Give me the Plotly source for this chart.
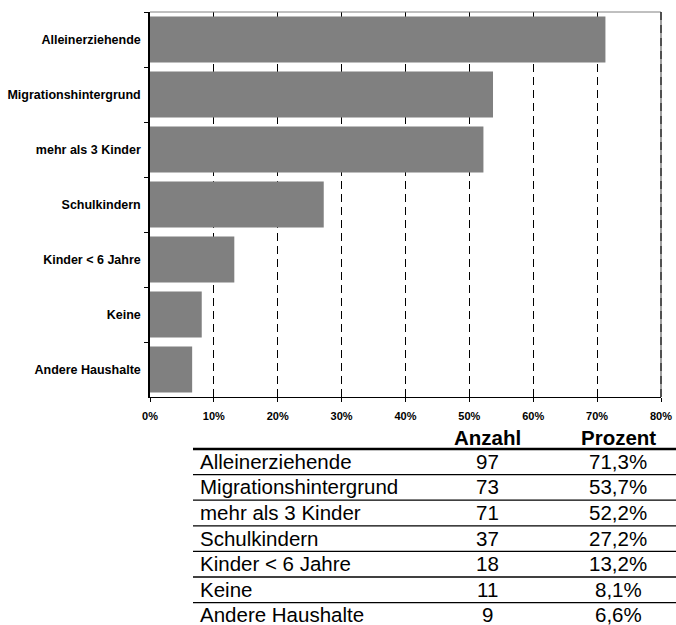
import plotly.graph_objects as go

# Household types with counts and shares (in percent)
categories = ["Alleinerziehende", "Migrationshintergrund", "mehr als 3 Kinder",
              "Schulkindern", "Kinder < 6 Jahre", "Keine", "Andere Haushalte"]
counts = [97, 73, 71, 37, 18, 11, 9]
percents = [71.3, 53.7, 52.2, 27.2, 13.2, 8.1, 6.6]
x_ticks = [0, 10, 20, 30, 40, 50, 60, 70, 80]
x_tick_labels = [f"{v}%" for v in x_ticks]
table_headers = ["Anzahl", "Prozent"]

FONT = "Arial, Liberation Sans, sans-serif"
W, H = 676, 625
L, R, T, B = 150, 15, 12, 228
PW, PH = W - L - R, H - T - B


def px(x):
    """Pixel x -> paper x."""
    return (x - L) / PW


def py(y):
    """Pixel y (from top) -> paper y."""
    return (H - B - y) / PH


fig = go.Figure(go.Bar(
    x=percents,
    y=categories,
    orientation="h",
    marker=dict(color="#808080", line=dict(width=0)),
    hoverinfo="skip",
))

fig.update_layout(
    width=W, height=H,
    margin=dict(l=L, r=R, t=T, b=B, pad=0, autoexpand=False),
    paper_bgcolor="white", plot_bgcolor="white",
    showlegend=False,
    bargap=0.16,
    font=dict(family=FONT, color="black"),
)

fig.update_xaxes(
    range=[0, 80], tickmode="array", tickvals=x_ticks, ticktext=x_tick_labels,
    showgrid=True, gridcolor="black", gridwidth=1, griddash="8px,5px",
    zeroline=False, showline=True, linecolor="black", linewidth=1,
    ticks="outside", ticklen=4, tickcolor="black",
    tickfont=dict(family=FONT, size=11, color="black", weight="bold"),
    ticklabelstandoff=5, automargin=False,
)
fig.update_yaxes(
    categoryorder="array", categoryarray=categories, range=[6.5, -0.5],
    showgrid=False, zeroline=False, showline=True, linecolor="black", linewidth=1.5,
    ticks="outside", ticklen=4, tickcolor="black", tickson="boundaries",
    tickfont=dict(family=FONT, size=12.5, color="black", weight="bold"),
    ticklabelstandoff=5, automargin=False,
)

shapes = [
    # gray frame on the top and right of the plot area
    dict(type="line", xref="paper", yref="paper", x0=0, x1=1, y0=1, y1=1,
         line=dict(color="#808080", width=1)),
    dict(type="line", xref="paper", yref="paper", x0=1, x1=1, y0=0, y1=1,
         line=dict(color="#808080", width=1.5)),
    dict(type="line", xref="paper", yref="paper", x0=1, x1=1, y0=0, y1=1,
         line=dict(color="black", width=1, dash="8px,5px")),
]

# data table below the chart
row_h = 25.6
top_line = 449
shapes.append(dict(type="line", xref="paper", yref="paper",
                   x0=px(193), x1=px(676), y0=py(top_line), y1=py(top_line),
                   line=dict(color="black", width=2.5)))
for i in range(1, len(categories)):
    yl = top_line + i * row_h
    shapes.append(dict(type="line", xref="paper", yref="paper",
                       x0=px(193), x1=px(676), y0=py(yl), y1=py(yl),
                       line=dict(color="black", width=1.3)))

annotations = []
col_x = [487, 618]
for hx, htxt in zip(col_x, table_headers):
    annotations.append(dict(
        x=px(hx), y=py(437), xref="paper", yref="paper", text=htxt,
        showarrow=False, xanchor="center", yanchor="middle",
        font=dict(family=FONT, size=20.5, color="black", weight="bold")))

for i, (cat, n, p) in enumerate(zip(categories, counts, percents)):
    yc = py(top_line + (i + 0.5) * row_h - 0.5)
    cells = [(198, "left", cat),
             (col_x[0], "center", str(n)),
             (col_x[1], "center", f"{p:.1f}".replace(".", ",") + "%")]
    for cx, anchor, txt in cells:
        annotations.append(dict(
            x=px(cx), y=yc, xref="paper", yref="paper", text=txt,
            showarrow=False, xanchor=anchor, yanchor="middle",
            font=dict(family=FONT, size=20.5, color="black")))

fig.update_layout(shapes=shapes, annotations=annotations)

fig.write_html("out.html")
